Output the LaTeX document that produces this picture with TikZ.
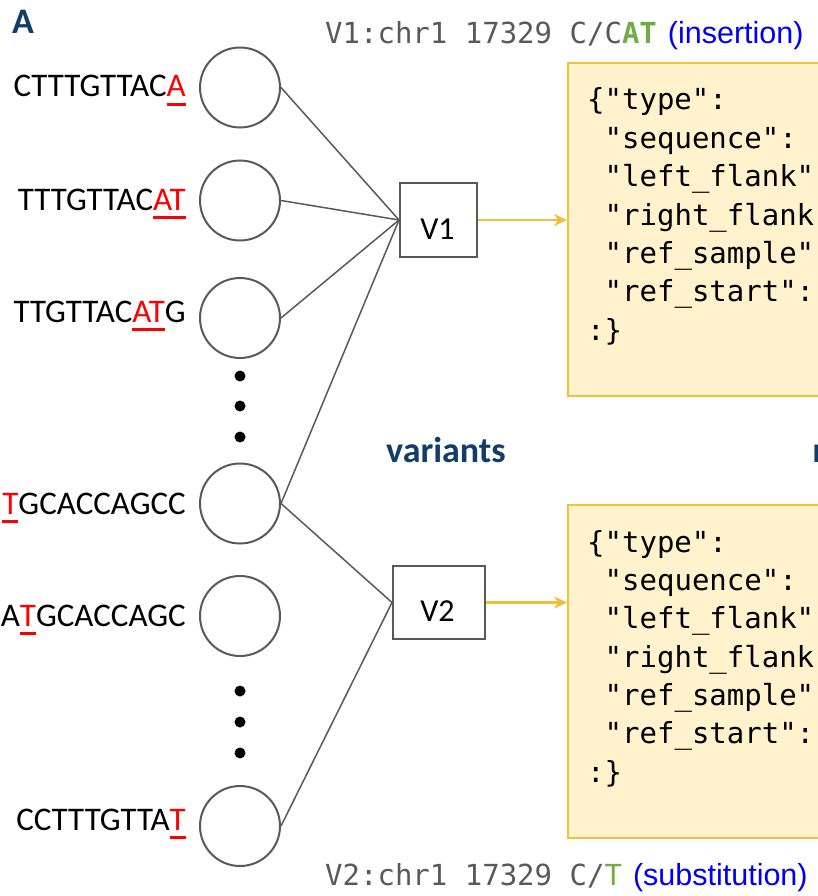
\documentclass[tikz,border=0pt]{standalone}
\usepackage{fontspec}
\setmainfont{Carlito}
\newfontfamily\codefont{DejaVu Sans Mono}
\newfontfamily\arialfont{Liberation Sans}
\usetikzlibrary{arrows.meta}

\definecolor{edgegray}{HTML}{595959}
\definecolor{mutred}{HTML}{FF0000}
\definecolor{navy}{HTML}{123D68}
\definecolor{capgray}{HTML}{595959}
\definecolor{capgreen}{HTML}{70AD47}
\definecolor{capblue}{HTML}{0000F0}
\definecolor{jsonfill}{HTML}{FFF2CC}
\definecolor{jsonline}{HTML}{F2C13A}
\definecolor{arrowyellow}{HTML}{F2BE3A}

% mutated bases: red, with a thick red bar under them
\newcommand\mutbase[1]{{\color{mutred}\setbox0\hbox{#1}\rlap{\rule[-9pt]{\wd0}{3pt}}\box0}}

\begin{document}
\begin{tikzpicture}[x=1pt,y=-1pt,
  seq/.style={inner sep=0pt, anchor=base east, font=\fontsize{33}{40}\selectfont},
  kmer/.style={circle, draw=edgegray, line width=2pt, inner sep=0pt, minimum size=80pt},
  ellipsisdot/.style={circle, fill=black, inner sep=0pt, minimum size=11pt},
  varbox/.style={rectangle, draw=edgegray, line width=2pt, inner sep=0pt},
  vartext/.style={inner sep=0pt, anchor=base, font=\fontsize{32}{38}\selectfont},
  link/.style={draw=edgegray, line width=1.5pt},
  yarrow/.style={draw=arrowyellow, line width=2.2pt, -{Stealth[length=13pt,width=12pt]}},
  jsonbox/.style={rectangle, draw=jsonline, fill=jsonfill, line width=2pt, inner sep=0pt,
    anchor=north west, minimum width=275pt, minimum height=333pt},
  code/.style={inner sep=0pt, anchor=base west, font=\codefont\fontsize{29}{35}\selectfont},
  caption/.style={inner sep=0pt, anchor=base west, font=\codefont\fontsize{29}{35}\selectfont},
  heading/.style={inner sep=0pt, text=navy, font=\bfseries\fontsize{36}{42}\selectfont},
]
\useasboundingbox (0,0) rectangle (818,896);
\clip (0,0) rectangle (818,896);

% panel letter
\node[heading, anchor=base west] (panel) at (12,34) {A};

% variant captions
\node[caption] (cap1) at (325,44) {\textcolor{capgray}{V1:chr1 17329 C/C}\textcolor{capgreen}{\bfseries AT}\hspace{11pt}{\arialfont\fontsize{30.5}{36}\selectfont\textcolor{capblue}{(insertion)}}};
\node[caption] (cap2) at (325,885) {\textcolor{capgray}{V2:chr1 17329 C/}\textcolor{capgreen}{T}\hspace{11pt}{\arialfont\fontsize{30.5}{36}\selectfont\textcolor{capblue}{(substitution)}}};

% k-mer sequences
\node[seq] (s1) at (186,97)  {CTTTGTTAC\mutbase{A}};
\node[seq] (s2) at (186,210) {TTTGTTAC\mutbase{AT}};
\node[seq] (s3) at (186,322) {TTGTTAC\mutbase{AT}G};
\node[seq] (s4) at (186,514) {\mutbase{T}GCACCAGCC};
\node[seq] (s5) at (186,626) {A\mutbase{T}GCACCAGC};
\node[seq] (s6) at (186,830) {CCTTTGTTA\mutbase{T}};

% k-mer nodes
\node[kmer] (c1) at (240,87.5) {};
\node[kmer] (c2) at (240,200.5) {};
\node[kmer] (c3) at (240,318) {};
\node[kmer] (c4) at (240,503.5) {};
\node[kmer] (c5) at (240,616) {};
\node[kmer] (c6) at (240,826) {};

% vertical ellipses
\node[ellipsisdot] (d1) at (240,376) {};
\node[ellipsisdot] (d2) at (240,406) {};
\node[ellipsisdot] (d3) at (240,437) {};
\node[ellipsisdot] (d4) at (240,691) {};
\node[ellipsisdot] (d5) at (240,722) {};
\node[ellipsisdot] (d6) at (240,753) {};

% variant nodes
\node[varbox, minimum width=77pt, minimum height=74pt] (v1) at (438.5,220) {};
\node[vartext] (v1t) at (437.5,239.5) {V1};
\node[varbox, minimum width=92pt, minimum height=73pt] (v2) at (439,602.5) {};
\node[vartext] (v2t) at (437.5,621.5) {V2};

\node[heading, anchor=base] (vlabel) at (446,462) {variants};
\node[heading, anchor=base west] (rlabel) at (812.5,462) {r};

% k-mer to variant links
\draw[link] (c1.east) -- (v1.west);
\draw[link] (c2.east) -- (v1.west);
\draw[link] (c3.east) -- (v1.west);
\draw[link] (c4.east) -- (v1.west);
\draw[link] (c4.east) -- (v2.west);
\draw[link] (c6.east) -- (v2.west);

% JSON records
\node[jsonbox] (j1) at (567,62) {};
\node[jsonbox] (j2) at (567,504) {};

\node[code] (j1a) at (587,110)   {\{"type":};
\node[code] (j1b) at (604.5,148.3) {"sequence":};
\node[code] (j1c) at (604.5,186.7) {"left\_flank"};
\node[code] (j1d) at (604.5,225)   {"right\_flank};
\node[code] (j1e) at (604.5,263.3) {"ref\_sample"};
\node[code] (j1f) at (604.5,301.7) {"ref\_start":};
\node[code] (j1g) at (587,340)   {:\}};

\node[code] (j2a) at (587,552)   {\{"type":};
\node[code] (j2b) at (604.5,590.3) {"sequence":};
\node[code] (j2c) at (604.5,628.7) {"left\_flank"};
\node[code] (j2d) at (604.5,667)   {"right\_flank};
\node[code] (j2e) at (604.5,705.3) {"ref\_sample"};
\node[code] (j2f) at (604.5,743.7) {"ref\_start":};
\node[code] (j2g) at (587,782)   {:\}};

% variant to record arrows
\draw[yarrow] (v1.east) -- (v1.east -| j1.west);
\draw[yarrow] (v2.east) -- (v2.east -| j2.west);
\end{tikzpicture}
\end{document}
